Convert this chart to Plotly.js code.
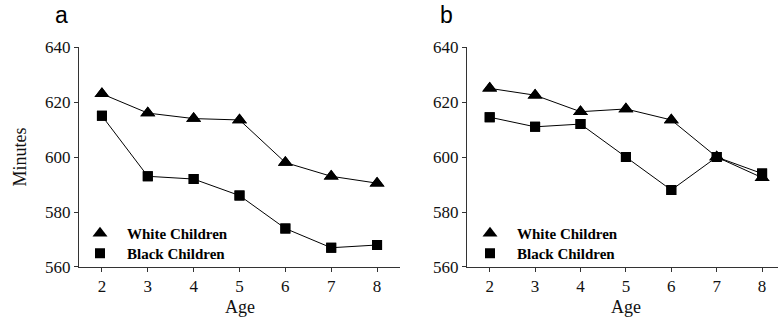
<!DOCTYPE html>
<html>
<head>
<meta charset="utf-8">
<script src="https://cdn.plot.ly/plotly-3.0.1.min.js"></script>
<style>html,body{margin:0;padding:0;background:#fff;}#chart{width:778px;height:325px;}</style>
</head>
<body>
<div id="chart"></div>
<script>
var ages = [2, 3, 4, 5, 6, 7, 8];
var tickLabels = ['2', '3', '4', '5', '6', '7', '8'];
var yTicks = [560, 580, 600, 620, 640];
var whiteA = [623, 616, 614, 613.5, 598, 593, 590.5];
var blackA = [615, 593, 592, 586, 574, 567, 568];
var whiteB = [625, 622.5, 616.5, 617.5, 613.5, 600, 592.5];
var blackB = [614.5, 611, 612, 600, 588, 600, 594];
var seriesNames = ['White Children', 'Black Children'];

var serif = 'Liberation Serif, Times New Roman, serif';
function tr(x, y, name, xa, ya, sym, size) {
  return {
    x: x, y: y, name: name, xaxis: xa, yaxis: ya, type: 'scatter', mode: 'lines+markers',
    line: {color: '#000', width: 1},
    marker: {symbol: sym, size: size, color: '#000'},
    showlegend: false
  };
}
function legTr(x, y, name, xa, ya, sym, size, leg) {
  return {
    x: x, y: y, name: name, xaxis: xa, yaxis: ya, type: 'scatter', mode: 'markers',
    marker: {symbol: sym, size: size, color: '#000'},
    legend: leg, showlegend: true
  };
}
var data = [
  tr(ages, whiteA, seriesNames[0], 'x', 'y', 'triangle-up', 13),
  tr(ages, blackA, seriesNames[1], 'x', 'y', 'square', 10),
  tr(ages, whiteB, seriesNames[0], 'x2', 'y2', 'triangle-up', 13),
  tr(ages, blackB, seriesNames[1], 'x2', 'y2', 'square', 10),
  legTr(ages, whiteA, seriesNames[0], 'x', 'y', 'triangle-up', 13, 'legend'),
  legTr(ages, blackA, seriesNames[1], 'x', 'y', 'square', 10, 'legend2'),
  legTr(ages, whiteB, seriesNames[0], 'x2', 'y2', 'triangle-up', 13, 'legend3'),
  legTr(ages, blackB, seriesNames[1], 'x2', 'y2', 'square', 10, 'legend4')
];

function xax(domain, rng, anchor) {
  return {
    domain: domain, range: rng, anchor: anchor, tickmode: 'array', tickvals: ages, ticktext: tickLabels,
    showgrid: false, zeroline: false, showline: true, linecolor: '#333', linewidth: 1,
    ticks: 'outside', ticklen: 4, tickcolor: '#333', tickfont: {family: serif, size: 17, color: '#111'},
    automargin: false, fixedrange: true
  };
}
function yax(anchor, title) {
  var a = {
    domain: [0.1785, 0.855], range: [560, 640], tickmode: 'array', tickvals: yTicks,
    showgrid: false, zeroline: false, showline: true, linecolor: '#333', linewidth: 1,
    ticks: 'outside', ticklen: 4, tickcolor: '#333', tickfont: {family: serif, size: 17, color: '#111'},
    anchor: anchor, automargin: false, fixedrange: true
  };
  if (title) a.title = {text: title, font: {family: serif, size: 18, color: '#111'}, standoff: 13};
  return a;
}
var legFont = {family: serif, size: 15, color: '#000', weight: 'bold'};
function leg(x, top) {
  return {x: x / 778, y: 1 - top / 325, xanchor: 'left', yanchor: 'top', bgcolor: 'rgba(0,0,0,0)',
    font: legFont, itemwidth: 44, tracegroupgap: 0};
}
var titleFont = {family: serif, size: 18, color: '#111'};
var layout = {
  width: 778, height: 325,
  margin: {l: 0, r: 0, t: 0, b: 0},
  paper_bgcolor: '#fff', plot_bgcolor: '#fff',
  showlegend: true,
  xaxis: xax([79/778, 400/778], [1.5, 8.5], 'y'),
  yaxis: yax('x', 'Minutes'),
  xaxis2: xax([467/778, 1], [1.5, 8.35], 'y2'),
  yaxis2: yax('x2', null),
  legend: leg(73, 217),
  legend2: leg(73, 237),
  legend3: leg(463, 217),
  legend4: leg(463, 237),
  annotations: [
    {text: 'a', xref: 'paper', yref: 'paper', x: 61/778, y: 1 - 15/325, xanchor: 'center', yanchor: 'middle',
      showarrow: false, font: {family: 'Liberation Sans, Arial, sans-serif', size: 23, color: '#000'}},
    {text: 'b', xref: 'paper', yref: 'paper', x: 447/778, y: 1 - 15/325, xanchor: 'center', yanchor: 'middle',
      showarrow: false, font: {family: 'Liberation Sans, Arial, sans-serif', size: 23, color: '#000'}},
    {text: 'Age', xref: 'x', yref: 'paper', x: 5, y: 1 - 307/325, xanchor: 'center', yanchor: 'middle',
      showarrow: false, font: titleFont},
    {text: 'Age', xref: 'x2', yref: 'paper', x: 5, y: 1 - 307/325, xanchor: 'center', yanchor: 'middle',
      showarrow: false, font: titleFont}
  ]
};
Plotly.newPlot('chart', data, layout, {displayModeBar: false, staticPlot: true});
</script>
</body>
</html>
